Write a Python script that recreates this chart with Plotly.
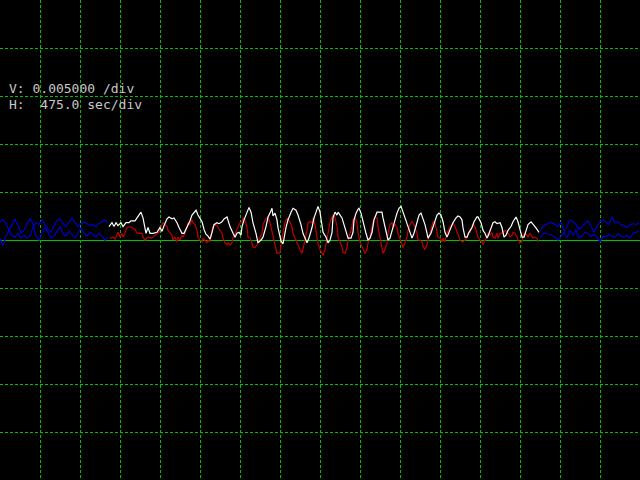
import plotly.graph_objects as go

# ---- scope settings ----
V_PER_DIV = 0.005      # volts per division
H_PER_DIV = 475.0      # seconds per division
N_HDIV = 16
N_VDIV = 10

# ---- channel A (white / upper) ----
white_t = [1294, 1330, 1354, 1378, 1401, 1437, 1461, 1496, 1532, 1556, 1603, 1627, 1651, 1674, 1698, 1710,
           1734, 1758, 1781, 1817, 1864, 1900, 1924, 1948, 1983, 2007, 2043, 2066, 2102, 2126, 2161, 2185,
           2221, 2256, 2280, 2304, 2328, 2351, 2399, 2423, 2446, 2470, 2494, 2518, 2541, 2577, 2601, 2636,
           2660, 2696, 2731, 2767, 2791, 2814, 2838, 2862, 2874, 2898, 2933, 2957, 2981, 3004, 3040, 3064,
           3099, 3123, 3159, 3183, 3206, 3230, 3242, 3266, 3289, 3301, 3337, 3361, 3396, 3420, 3456, 3479,
           3515, 3539, 3574, 3598, 3646, 3669, 3705, 3729, 3753, 3776, 3800, 3824, 3836, 3871, 3895, 3919,
           3943, 3954, 3978, 4002, 4014, 4038, 4061, 4085, 4121, 4133, 4168, 4192, 4204, 4228, 4251, 4263,
           4287, 4311, 4346, 4370, 4394, 4418, 4441, 4477, 4513, 4536, 4548, 4572, 4596, 4608, 4631, 4655,
           4679, 4714, 4738, 4762, 4786, 4809, 4845, 4869, 4893, 4916, 4952, 4976, 4999, 5023, 5047, 5071,
           5083, 5118, 5142, 5166, 5189, 5213, 5237, 5261, 5284, 5308, 5332, 5368, 5379, 5415, 5439, 5463,
           5486, 5498, 5522, 5546, 5569, 5605, 5629, 5664, 5676, 5712, 5736, 5759, 5783, 5795, 5819, 5854,
           5878, 5902, 5938, 5961, 5985, 6009, 6033, 6068, 6092, 6128, 6151, 6175, 6199, 6223, 6246, 6270,
           6306, 6329, 6353, 6377, 6401]
white_v = [0.0014, 0.0018, 0.0014, 0.0018, 0.0015, 0.0018, 0.0014, 0.0018, 0.0018, 0.0020, 0.0020, 0.0023, 0.0026, 0.0029, 0.0023, 0.0017,
           0.0007, 0.0013, 0.0007, 0.0007, 0.0008, 0.0013, 0.0009, 0.0015, 0.0022, 0.0024, 0.0022, 0.0023, 0.0018, 0.0013, 0.0007, 0.0007,
           0.0013, 0.0020, 0.0026, 0.0028, 0.0031, 0.0026, 0.0019, 0.0011, 0.0006, 0.0004, 0.0001, 0.0008, 0.0016, 0.0018, 0.0017, 0.0019,
           0.0022, 0.0024, 0.0014, 0.0007, 0.0003, 0.0007, 0.0008, 0.0005, 0.0014, 0.0021, 0.0029, 0.0034, 0.0029, 0.0018, 0.0007, -0.0003,
           0.0000, 0.0003, 0.0014, 0.0024, 0.0028, 0.0033, 0.0025, 0.0028, 0.0021, 0.0013, -0.0001, -0.0004, 0.0013, 0.0021, 0.0029, 0.0033,
           0.0031, 0.0026, 0.0016, 0.0007, -0.0003, 0.0002, 0.0013, 0.0023, 0.0029, 0.0035, 0.0029, 0.0016, 0.0008, 0.0003, -0.0003, 0.0000,
           0.0008, 0.0023, 0.0029, 0.0026, 0.0029, 0.0026, 0.0023, 0.0016, 0.0007, 0.0002, 0.0002, 0.0008, 0.0021, 0.0028, 0.0032, 0.0033,
           0.0028, 0.0018, 0.0007, 0.0000, 0.0002, 0.0008, 0.0021, 0.0029, 0.0029, 0.0029, 0.0023, 0.0014, 0.0007, 0.0000, 0.0002, 0.0010,
           0.0019, 0.0028, 0.0033, 0.0035, 0.0029, 0.0023, 0.0013, 0.0007, 0.0002, 0.0007, 0.0019, 0.0026, 0.0028, 0.0023, 0.0016, 0.0007,
           0.0002, 0.0007, 0.0014, 0.0021, 0.0026, 0.0028, 0.0026, 0.0019, 0.0008, 0.0003, 0.0008, 0.0014, 0.0018, 0.0023, 0.0025, 0.0024,
           0.0021, 0.0013, 0.0003, 0.0003, 0.0008, 0.0013, 0.0019, 0.0024, 0.0024, 0.0018, 0.0010, 0.0007, 0.0002, 0.0004, 0.0010, 0.0018,
           0.0019, 0.0017, 0.0018, 0.0013, 0.0003, 0.0005, 0.0010, 0.0014, 0.0019, 0.0024, 0.0019, 0.0010, 0.0003, 0.0003, 0.0010, 0.0016,
           0.0019, 0.0017, 0.0014, 0.0011, 0.0008]

# ---- channel B (red / lower) ----
red_t = [1306, 1342, 1366, 1389, 1401, 1425, 1449, 1461, 1484, 1508, 1520, 1544, 1568, 1603, 1627, 1651,
         1686, 1698, 1722, 1746, 1758, 1793, 1817, 1841, 1876, 1888, 1912, 1936, 1959, 1983, 1995, 2019,
         2043, 2054, 2078, 2102, 2114, 2138, 2161, 2173, 2197, 2221, 2233, 2256, 2280, 2292, 2316, 2339,
         2351, 2375, 2399, 2411, 2434, 2458, 2470, 2494, 2518, 2529, 2553, 2577, 2589, 2613, 2636, 2648,
         2672, 2696, 2708, 2731, 2755, 2767, 2791, 2814, 2826, 2850, 2874, 2886, 2909, 2933, 2945, 2969,
         2993, 3004, 3028, 3052, 3064, 3088, 3111, 3123, 3147, 3171, 3183, 3206, 3230, 3242, 3266, 3289,
         3301, 3325, 3349, 3361, 3384, 3408, 3420, 3444, 3468, 3479, 3503, 3527, 3539, 3563, 3586, 3598,
         3622, 3646, 3658, 3681, 3705, 3717, 3741, 3764, 3776, 3800, 3824, 3836, 3859, 3883, 3895, 3919,
         3943, 3954, 3978, 4002, 4014, 4038, 4061, 4073, 4097, 4121, 4133, 4156, 4180, 4192, 4216, 4239,
         4251, 4275, 4299, 4311, 4334, 4358, 4370, 4394, 4418, 4429, 4453, 4477, 4489, 4513, 4536, 4548,
         4572, 4596, 4608, 4631, 4655, 4667, 4691, 4714, 4726, 4750, 4774, 4786, 4809, 4833, 4845, 4869,
         4893, 4904, 4928, 4952, 4964, 4988, 5011, 5023, 5047, 5071, 5083, 5106, 5130, 5142, 5166, 5189,
         5201, 5225, 5249, 5261, 5284, 5308, 5320, 5344, 5368, 5379, 5403, 5427, 5439, 5463, 5486, 5498,
         5522, 5546, 5558, 5581, 5605, 5617, 5641, 5664, 5676, 5700, 5724, 5736, 5759, 5783, 5795, 5819,
         5843, 5854, 5878, 5902, 5914, 5938, 5961, 5973, 5997, 6021, 6033, 6056, 6080, 6092, 6116, 6139,
         6151, 6175, 6199, 6211, 6234, 6258, 6270, 6294, 6318, 6329, 6353, 6377, 6389]
red_v = [0.0002, 0.0003, 0.0001, 0.0007, 0.0008, 0.0003, 0.0007, 0.0003, 0.0007, 0.0013, 0.0013, 0.0014, 0.0013, 0.0011, 0.0007, 0.0007,
         0.0007, 0.0003, 0.0000, 0.0002, 0.0003, 0.0002, 0.0003, 0.0005, 0.0007, 0.0008, 0.0014, 0.0018, 0.0016, 0.0014, 0.0010, 0.0007,
         0.0005, 0.0000, 0.0003, -0.0002, 0.0003, 0.0000, 0.0005, 0.0003, 0.0007, 0.0013, 0.0018, 0.0016, 0.0021, 0.0018, 0.0016, 0.0010,
         0.0003, 0.0000, -0.0002, 0.0002, 0.0000, -0.0003, 0.0000, -0.0002, 0.0010, 0.0014, 0.0016, 0.0015, 0.0013, 0.0010, 0.0007, 0.0002,
         -0.0003, -0.0005, -0.0003, -0.0005, -0.0003, 0.0002, 0.0007, 0.0010, 0.0014, 0.0018, 0.0019, 0.0023, 0.0021, 0.0013, 0.0003, 0.0002,
         -0.0003, -0.0007, -0.0008, -0.0005, -0.0002, 0.0002, 0.0007, 0.0016, 0.0021, 0.0023, 0.0023, 0.0018, 0.0008, 0.0002, -0.0007, -0.0014,
         -0.0014, -0.0013, 0.0002, 0.0008, 0.0018, 0.0023, 0.0021, 0.0019, 0.0013, 0.0007, 0.0002, -0.0003, -0.0007, -0.0010, -0.0014, -0.0008,
         0.0000, 0.0010, 0.0018, 0.0019, 0.0018, 0.0023, 0.0016, 0.0003, -0.0003, -0.0010, -0.0014, -0.0016, -0.0010, 0.0000, 0.0008, 0.0018,
         0.0024, 0.0026, 0.0024, 0.0014, 0.0003, -0.0002, -0.0007, -0.0013, -0.0014, -0.0008, 0.0000, 0.0007, 0.0014, 0.0021, 0.0023, 0.0018,
         0.0008, -0.0002, -0.0007, -0.0008, -0.0014, -0.0010, -0.0003, 0.0003, 0.0014, 0.0019, 0.0024, 0.0023, 0.0014, 0.0003, -0.0007, -0.0014,
         -0.0010, -0.0003, 0.0007, 0.0016, 0.0018, 0.0014, 0.0016, 0.0013, 0.0007, 0.0002, -0.0005, -0.0008, -0.0003, 0.0003, 0.0010, 0.0016,
         0.0019, 0.0018, 0.0013, 0.0007, 0.0000, 0.0000, -0.0002, -0.0007, -0.0010, -0.0005, 0.0000, 0.0007, 0.0016, 0.0019, 0.0018, 0.0007,
         0.0003, 0.0002, -0.0002, 0.0002, -0.0002, 0.0007, 0.0010, 0.0014, 0.0016, 0.0018, 0.0014, 0.0008, 0.0007, 0.0000, -0.0002, -0.0002,
         0.0000, 0.0003, 0.0007, 0.0008, 0.0014, 0.0016, 0.0014, 0.0007, 0.0003, 0.0000, -0.0002, -0.0005, 0.0000, 0.0003, 0.0007, 0.0005,
         0.0008, 0.0003, 0.0002, 0.0007, 0.0002, 0.0007, 0.0007, 0.0008, 0.0010, 0.0008, 0.0007, 0.0003, 0.0005, 0.0008, 0.0007, 0.0003,
         0.0000, -0.0003, -0.0002, 0.0005, 0.0007, 0.0005, 0.0003, 0.0007, 0.0003, 0.0002, 0.0003, 0.0002, -0.0002]

# ---- pre/post-trigger segments (blue), regular sampling ----
BLUE_DT = 35.625
blue_left_start = 0.0
blue_left_a = [0.0019, 0.0021, 0.0017, 0.0010, 0.0005, 0.0003, 0.0007, 0.0002, 0.0005, 0.0002, 0.0004, 0.0013, 0.0018,
               0.0016, 0.0021, 0.0016, 0.0011, 0.0008, 0.0015, 0.0020, 0.0022, 0.0017, 0.0014, 0.0019, 0.0023, 0.0018,
               0.0014, 0.0017, 0.0019, 0.0017, 0.0015, 0.0016, 0.0014, 0.0017, 0.0019, 0.0021, 0.0018]
blue_left_b = [0.0002, -0.0006, 0.0004, 0.0010, 0.0015, 0.0022, 0.0015, 0.0007, 0.0010, 0.0017, 0.0022, 0.0017, 0.0004,
               0.0000, 0.0007, 0.0013, 0.0008, 0.0002, 0.0004, 0.0009, 0.0014, 0.0007, 0.0004, 0.0009, 0.0006, 0.0002,
               0.0007, 0.0013, 0.0007, 0.0004, 0.0008, 0.0006, 0.0003, 0.0007, 0.0004, 0.0000, 0.0003]
blue_right_start = 6412.5
blue_right_a = [0.0010, 0.0014, 0.0016, 0.0018, 0.0018, 0.0016, 0.0014, 0.0019, 0.0009, 0.0014, 0.0021, 0.0019, 0.0016,
                0.0011, 0.0014, 0.0016, 0.0020, 0.0014, 0.0008, 0.0014, 0.0019, 0.0021, 0.0018, 0.0016, 0.0024, 0.0018,
                0.0019, 0.0016, 0.0015, 0.0013, 0.0016, 0.0017, 0.0016, 0.0018]
blue_right_b = [0.0002, 0.0007, 0.0007, 0.0006, 0.0005, 0.0003, 0.0000, 0.0004, 0.0008, 0.0002, 0.0010, 0.0005, 0.0011,
                0.0002, 0.0004, 0.0008, 0.0007, 0.0004, 0.0006, 0.0003, -0.0002, 0.0004, 0.0003, 0.0006, 0.0004, 0.0003,
                0.0007, 0.0004, 0.0003, 0.0005, 0.0002, 0.0007, 0.0008, 0.0009]

def times(start, n):
    return [start + i * BLUE_DT for i in range(n)]

GRID = "#00c000"
fig = go.Figure()

for start, vals in [(blue_left_start, blue_left_a), (blue_left_start, blue_left_b),
                    (blue_right_start, blue_right_a), (blue_right_start, blue_right_b)]:
    fig.add_trace(go.Scatter(x=times(start, len(vals)), y=vals, mode="lines",
                             line=dict(color="#0000c8", width=1.2), hoverinfo="skip"))

fig.add_trace(go.Scatter(x=red_t, y=red_v, mode="lines",
                         line=dict(color="#c00000", width=1.2), hoverinfo="skip"))
fig.add_trace(go.Scatter(x=white_t, y=white_v, mode="lines",
                         line=dict(color="#ffffff", width=1.2), hoverinfo="skip"))

half = N_VDIV / 2 * V_PER_DIV
fig.update_layout(
    width=640, height=480, autosize=False,
    margin=dict(l=0, r=0, t=0, b=0, pad=0),
    paper_bgcolor="#000000", plot_bgcolor="#000000",
    showlegend=False,
    xaxis=dict(range=[0, N_HDIV * H_PER_DIV], tick0=0, dtick=H_PER_DIV,
               showgrid=True, gridcolor=GRID, gridwidth=1, griddash="3px,2px",
               zeroline=False, showticklabels=False, ticks="", showline=False, fixedrange=True),
    yaxis=dict(range=[-half, half], tick0=0, dtick=V_PER_DIV,
               showgrid=True, gridcolor=GRID, gridwidth=1, griddash="3px,2px",
               zeroline=True, zerolinecolor=GRID, zerolinewidth=1,
               showticklabels=False, ticks="", showline=False, fixedrange=True),
    annotations=[
        dict(text="V:\u00a0%.6f\u00a0/div" % V_PER_DIV, xref="paper", yref="paper",
             x=7 / 640, y=1 - 79 / 480, xanchor="left", yanchor="top", showarrow=False,
             font=dict(family="DejaVu Sans Mono", size=13, color="#c8c8c8")),
        dict(text="H:\u00a0\u00a0%.1f\u00a0sec/div" % H_PER_DIV, xref="paper", yref="paper",
             x=7 / 640, y=1 - 95 / 480, xanchor="left", yanchor="top", showarrow=False,
             font=dict(family="DejaVu Sans Mono", size=13, color="#c8c8c8")),
    ],
)

fig.write_html("out.html", config={"displayModeBar": False},
               post_script="document.body.style.margin='0';document.body.style.background='#000';")
